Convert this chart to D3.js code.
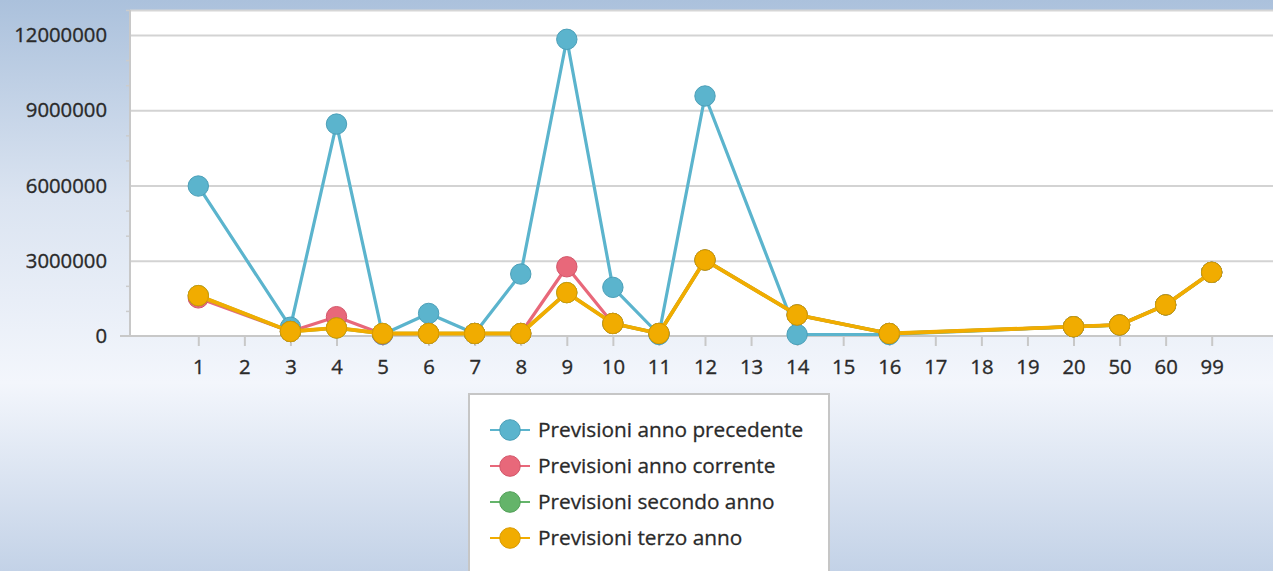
<!DOCTYPE html>
<html><head><meta charset="utf-8">
<script src="https://cdn.jsdelivr.net/npm/d3@7"></script>
<style>html,body{margin:0;padding:0;overflow:hidden;background:#fff}</style>
</head><body>
<svg id="chart" width="1273" height="571"></svg>
<script>
const categories = ["1","2","3","4","5","6","7","8","9","10","11","12","13","14","15","16","17","18","19","20","50","60","99"];
const seriesNames = ["Previsioni anno precedente","Previsioni anno corrente","Previsioni secondo anno","Previsioni terzo anno"];
const seriesColors = ["#5bb4cd","#e8687a","#64b46a","#f1ac00"];
const seriesStrokes = ["#4b9fb8","#d3566a","#52a058","#d99a00"];
const prevPrecedente = [5980000,null,350000,8450000,60000,900000,100000,2470000,11830000,1940000,60000,9570000,null,60000,null,60000,null,null,null,370000,440000,1240000,2540000];
const prevCorrente   = [1520000,null,180000,770000,80000,100000,100000,100000,2760000,500000,100000,3030000,null,840000,null,100000,null,null,null,370000,440000,1240000,2540000];
const prevSecondo    = [1610000,null,180000,320000,100000,100000,100000,100000,1730000,500000,100000,3030000,null,840000,null,100000,null,null,null,370000,440000,1240000,2540000];
const prevTerzo      = [1610000,null,180000,320000,100000,100000,100000,100000,1730000,500000,100000,3030000,null,840000,null,100000,null,null,null,370000,440000,1240000,2540000];
const seriesValues = [prevPrecedente, prevCorrente, prevSecondo, prevTerzo];
const yMajorTicks = [0,3000000,6000000,9000000,12000000];
const yMinorTicks = [1000000,2000000,4000000,5000000,7000000,8000000,10000000,11000000,13000000];

const W = 1273, H = 571;
const plotL = 130, plotT = 10, plotR = 1273, plotB = 336;
const svg = d3.select("#chart");
const FONT = "'Open Sans', 'Noto Sans', sans-serif";
const TEXT = "#2a2a2a";

// background gradient
const defs = svg.append("defs");
const bg = defs.append("linearGradient").attr("id","bg").attr("x1",0).attr("y1",0).attr("x2",0).attr("y2",1);
bg.append("stop").attr("offset","0%").attr("stop-color","#abc1dc");
bg.append("stop").attr("offset","35%").attr("stop-color","#dbe4f1");
bg.append("stop").attr("offset","67%").attr("stop-color","#f3f6fc");
bg.append("stop").attr("offset","100%").attr("stop-color","#c3d2e7");
svg.append("rect").attr("width",W).attr("height",H).attr("fill","url(#bg)");

// plot area
svg.append("rect").attr("x",plotL).attr("y",plotT).attr("width",plotR-plotL).attr("height",plotB-plotT).attr("fill","#ffffff");
svg.append("line").attr("x1",plotL).attr("x2",plotR).attr("y1",plotT+0.5).attr("y2",plotT+0.5).attr("stroke","#d6d6d6").attr("stroke-width",2);

const x = d3.scalePoint().domain(categories).range([198.3, 1211.7]);
const y = d3.scaleLinear().domain([0,13000000]).range([plotB, plotB - 13*25.08]);

// gridlines
svg.append("g").attr("transform",`translate(${plotL},0)`)
  .call(d3.axisLeft(y).tickValues(yMajorTicks.filter(d=>d>0)).tickSize(-(plotR-plotL)).tickFormat(""))
  .call(g=>g.select(".domain").remove())
  .call(g=>g.selectAll("line").attr("stroke","#d3d3d3").attr("stroke-width",2));

// minor ticks
svg.append("g").attr("transform",`translate(${plotL},0)`)
  .call(d3.axisLeft(y).tickValues(yMinorTicks).tickSize(4).tickFormat(""))
  .call(g=>g.select(".domain").remove())
  .call(g=>g.selectAll("line").attr("stroke","#cccccc").attr("stroke-width",1.5));

// y axis labels + line
const yAxis = svg.append("g").attr("transform",`translate(${plotL},0)`)
  .call(d3.axisLeft(y).tickValues(yMajorTicks).tickSize(0).tickPadding(23).tickFormat(d3.format("d")));
yAxis.select(".domain").remove();
yAxis.selectAll("text").attr("font-family",FONT).attr("font-size","20.3px").attr("fill",TEXT)
  .attr("stroke",TEXT).attr("stroke-width",0.35);
svg.append("line").attr("x1",plotL).attr("x2",plotL).attr("y1",plotT).attr("y2",plotB).attr("stroke","#c8c8c8").attr("stroke-width",2);

// x axis
const xAxis = svg.append("g").attr("transform",`translate(0,${plotB})`)
  .call(d3.axisBottom(x).tickSize(10).tickPadding(14));
xAxis.select(".domain").remove();
xAxis.selectAll("line").attr("stroke","#c8c8c8").attr("stroke-width",2);
xAxis.selectAll("text").attr("font-family",FONT).attr("font-size","20.3px").attr("fill",TEXT)
  .attr("stroke",TEXT).attr("stroke-width",0.35);
svg.append("line").attr("x1",120).attr("x2",plotR).attr("y1",plotB).attr("y2",plotB).attr("stroke","#c8c8c8").attr("stroke-width",2);

// series
const line = d3.line().x(d=>x(d.c)).y(d=>y(d.v));
const widths = [3.2, 3.2, 3.4, 3.8];
seriesValues.forEach((vals,i)=>{
  const pts = categories.map((c,j)=>({c, v: vals[j]})).filter(d=>d.v!==null);
  const g = svg.append("g");
  g.append("path").datum(pts).attr("d",line).attr("fill","none")
    .attr("stroke",seriesColors[i]).attr("stroke-width",widths[i]).attr("stroke-linejoin","round");
  g.selectAll("circle").data(pts).join("circle")
    .attr("cx",d=>x(d.c)).attr("cy",d=>y(d.v)).attr("r",10.2)
    .attr("fill",seriesColors[i]).attr("stroke",seriesStrokes[i]).attr("stroke-width",1);
});

// legend
const lg = svg.append("g");
lg.append("rect").attr("x",469).attr("y",394).attr("width",360).attr("height",220)
  .attr("fill","#ffffff").attr("stroke","#c6c6c6").attr("stroke-width",2);
const rowY = [430, 466, 502, 538];
seriesNames.forEach((n,i)=>{
  const gy = rowY[i];
  lg.append("line").attr("x1",490).attr("x2",530).attr("y1",gy).attr("y2",gy)
    .attr("stroke",seriesColors[i]).attr("stroke-width",2);
  lg.append("circle").attr("cx",510).attr("cy",gy).attr("r",10.3)
    .attr("fill",seriesColors[i]).attr("stroke",seriesStrokes[i]).attr("stroke-width",1);
  lg.append("text").attr("x",538).attr("y",gy).attr("dy","0.36em")
    .attr("font-family",FONT).attr("font-size","20.8px").attr("fill",TEXT)
    .attr("stroke",TEXT).attr("stroke-width",0.3).text(n);
});
</script>
</body></html>
